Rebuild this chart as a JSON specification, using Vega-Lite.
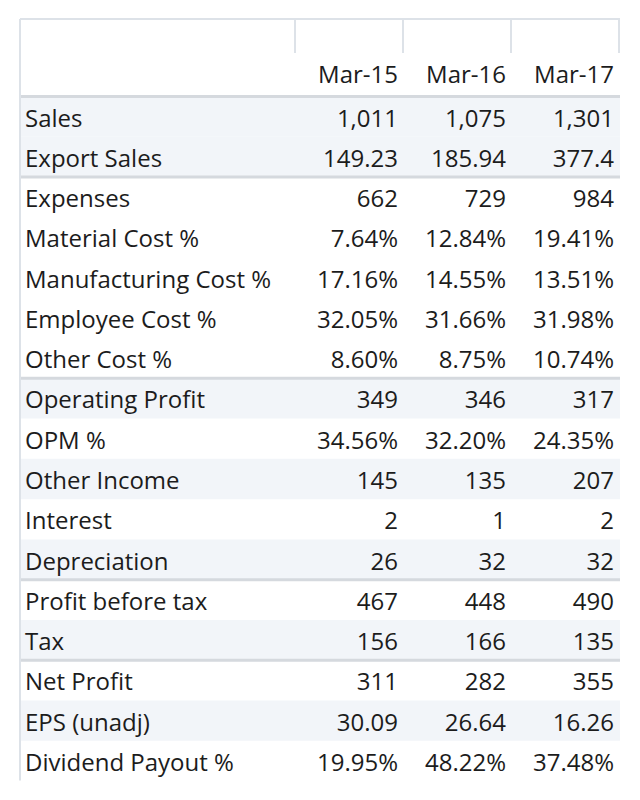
{
  "$schema": "https://vega.github.io/schema/vega-lite/v6.json",
  "width": 640,
  "height": 800,
  "autosize": {"type": "none"},
  "padding": 0,
  "background": "white",
  "config": {"view": {"stroke": null}, "axis": {"disable": true}},
  "datasets": {
    "rows": [
      {"r": 0, "item": "Sales", "shade": true, "first": true},
      {"r": 1, "item": "Export Sales", "shade": true, "first": false},
      {"r": 2, "item": "Expenses", "shade": false, "first": true},
      {"r": 3, "item": "Material Cost %", "shade": false, "first": false},
      {"r": 4, "item": "Manufacturing Cost %", "shade": false, "first": false},
      {"r": 5, "item": "Employee Cost %", "shade": false, "first": false},
      {"r": 6, "item": "Other Cost %", "shade": false, "first": false},
      {"r": 7, "item": "Operating Profit", "shade": true, "first": true},
      {"r": 8, "item": "OPM %", "shade": false, "first": false},
      {"r": 9, "item": "Other Income", "shade": true, "first": false},
      {"r": 10, "item": "Interest", "shade": false, "first": false},
      {"r": 11, "item": "Depreciation", "shade": true, "first": false},
      {"r": 12, "item": "Profit before tax", "shade": false, "first": true},
      {"r": 13, "item": "Tax", "shade": true, "first": false},
      {"r": 14, "item": "Net Profit", "shade": false, "first": true},
      {"r": 15, "item": "EPS (unadj)", "shade": true, "first": false},
      {"r": 16, "item": "Dividend Payout %", "shade": false, "first": false}
    ],
    "cols": [
      {"c": 0, "h": ""},
      {"c": 1, "h": "Mar-15"},
      {"c": 2, "h": "Mar-16"},
      {"c": 3, "h": "Mar-17"}
    ],
    "cells": [
      {"r": 0, "c": 1, "v": "1,011"}, {"r": 0, "c": 2, "v": "1,075"}, {"r": 0, "c": 3, "v": "1,301"},
      {"r": 1, "c": 1, "v": "149.23"}, {"r": 1, "c": 2, "v": "185.94"}, {"r": 1, "c": 3, "v": "377.4"},
      {"r": 2, "c": 1, "v": "662"}, {"r": 2, "c": 2, "v": "729"}, {"r": 2, "c": 3, "v": "984"},
      {"r": 3, "c": 1, "v": "7.64%"}, {"r": 3, "c": 2, "v": "12.84%"}, {"r": 3, "c": 3, "v": "19.41%"},
      {"r": 4, "c": 1, "v": "17.16%"}, {"r": 4, "c": 2, "v": "14.55%"}, {"r": 4, "c": 3, "v": "13.51%"},
      {"r": 5, "c": 1, "v": "32.05%"}, {"r": 5, "c": 2, "v": "31.66%"}, {"r": 5, "c": 3, "v": "31.98%"},
      {"r": 6, "c": 1, "v": "8.60%"}, {"r": 6, "c": 2, "v": "8.75%"}, {"r": 6, "c": 3, "v": "10.74%"},
      {"r": 7, "c": 1, "v": "349"}, {"r": 7, "c": 2, "v": "346"}, {"r": 7, "c": 3, "v": "317"},
      {"r": 8, "c": 1, "v": "34.56%"}, {"r": 8, "c": 2, "v": "32.20%"}, {"r": 8, "c": 3, "v": "24.35%"},
      {"r": 9, "c": 1, "v": "145"}, {"r": 9, "c": 2, "v": "135"}, {"r": 9, "c": 3, "v": "207"},
      {"r": 10, "c": 1, "v": "2"}, {"r": 10, "c": 2, "v": "1"}, {"r": 10, "c": 3, "v": "2"},
      {"r": 11, "c": 1, "v": "26"}, {"r": 11, "c": 2, "v": "32"}, {"r": 11, "c": 3, "v": "32"},
      {"r": 12, "c": 1, "v": "467"}, {"r": 12, "c": 2, "v": "448"}, {"r": 12, "c": 3, "v": "490"},
      {"r": 13, "c": 1, "v": "156"}, {"r": 13, "c": 2, "v": "166"}, {"r": 13, "c": 3, "v": "135"},
      {"r": 14, "c": 1, "v": "311"}, {"r": 14, "c": 2, "v": "282"}, {"r": 14, "c": 3, "v": "355"},
      {"r": 15, "c": 1, "v": "30.09"}, {"r": 15, "c": 2, "v": "26.64"}, {"r": 15, "c": 3, "v": "16.26"},
      {"r": 16, "c": 1, "v": "19.95%"}, {"r": 16, "c": 2, "v": "48.22%"}, {"r": 16, "c": 3, "v": "37.48%"}
    ]
  },
  "resolve": {"scale": {"x": "shared", "y": "shared"}},
  "layer": [
    {
      "data": {"name": "rows"},
      "transform": [{"filter": "datum.shade"}],
      "mark": {"type": "rule", "stroke": "#f2f5f9", "strokeWidth": 40.3, "strokeCap": "butt", "yOffset": -1.5},
      "encoding": {
        "y": {"field": "r", "type": "quantitative", "scale": {"domain": [-2.9295, 16.9315], "reverse": true, "zero": false, "nice": false}},
        "x": {"datum": -2.5, "type": "quantitative", "scale": {"domain": [-2.6852, 3.2407], "zero": false, "nice": false}},
        "x2": {"datum": 3.0556}
      }
    },
    {
      "data": {"name": "rows"},
      "transform": [{"filter": "datum.first"}],
      "mark": {"type": "rule", "stroke": "#d5d9de", "strokeWidth": 3, "strokeCap": "butt", "yOffset": -21.6},
      "encoding": {
        "y": {"field": "r", "type": "quantitative"},
        "x": {"datum": -2.5, "type": "quantitative"},
        "x2": {"datum": 3.0556}
      }
    },
    {
      "data": {"name": "cols"},
      "mark": {"type": "rule", "stroke": "#dde2e8", "strokeWidth": 2, "xOffset": 5},
      "encoding": {
        "x": {"field": "c", "type": "quantitative"},
        "y": {"datum": -2.458, "type": "quantitative"},
        "y2": {"datum": -1.614}
      }
    },
    {
      "data": {"values": [{}]},
      "mark": {"type": "rule", "stroke": "#dde2e8", "strokeWidth": 2},
      "encoding": {
        "x": {"datum": -2.5, "type": "quantitative"},
        "x2": {"datum": 3.0556},
        "y": {"datum": -2.458, "type": "quantitative"}
      }
    },
    {
      "data": {"values": [{}]},
      "mark": {"type": "rule", "stroke": "#dde2e8", "strokeWidth": 2},
      "encoding": {
        "x": {"datum": -2.5, "type": "quantitative"},
        "y": {"datum": -2.458, "type": "quantitative"},
        "y2": {"datum": 16.45}
      }
    },
    {
      "data": {"name": "cols"},
      "transform": [{"filter": "datum.c > 0"}],
      "mark": {"type": "text", "align": "right", "baseline": "alphabetic", "dy": 8.5, "font": "Open Sans", "fontSize": 24, "fill": "#1c1c1c"},
      "encoding": {
        "x": {"field": "c", "type": "quantitative"},
        "y": {"datum": -1.08, "type": "quantitative"},
        "text": {"field": "h"}
      }
    },
    {
      "data": {"name": "rows"},
      "mark": {"type": "text", "align": "left", "baseline": "alphabetic", "dy": 8.5, "font": "Open Sans", "fontSize": 24, "fill": "#1c1c1c"},
      "encoding": {
        "x": {"datum": -2.4537, "type": "quantitative"},
        "y": {"field": "r", "type": "quantitative"},
        "text": {"field": "item"}
      }
    },
    {
      "data": {"name": "cells"},
      "mark": {"type": "text", "align": "right", "baseline": "alphabetic", "dy": 8.5, "font": "Open Sans", "fontSize": 24, "fill": "#1c1c1c"},
      "encoding": {
        "x": {"field": "c", "type": "quantitative"},
        "y": {"field": "r", "type": "quantitative"},
        "text": {"field": "v"}
      }
    }
  ]
}
